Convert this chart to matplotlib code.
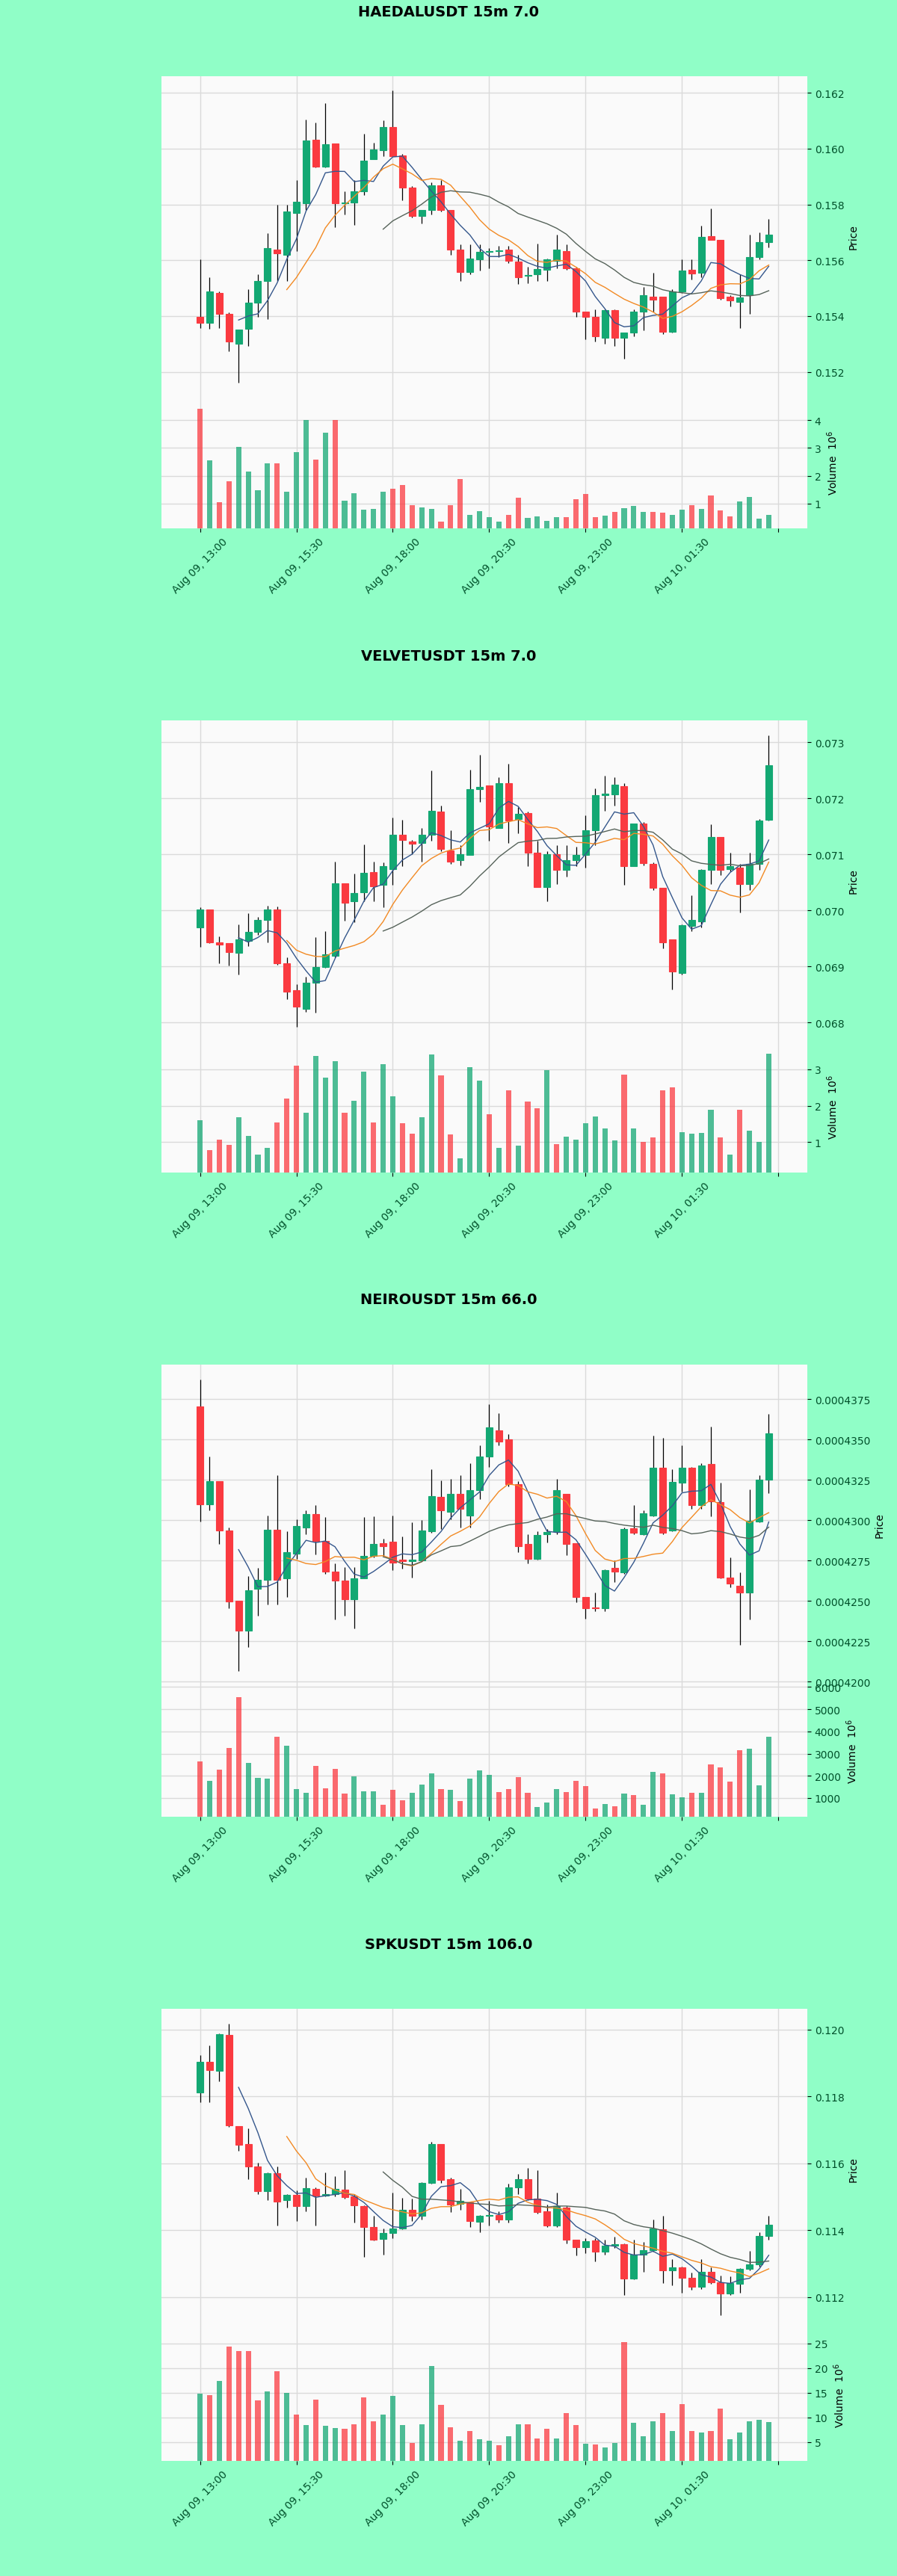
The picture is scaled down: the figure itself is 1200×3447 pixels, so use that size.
import numpy as np
import pandas as pd
import matplotlib
matplotlib.use("Agg")
import matplotlib.pyplot as plt
from matplotlib.ticker import MultipleLocator, FormatStrFormatter

# ---------------- data ----------------
times = pd.date_range("2025-08-09 13:00", periods=60, freq="15min")

titles = ["HAEDALUSDT 15m 7.0", "VELVETUSDT 15m 7.0", "NEIROUSDT 15m 66.0", "SPKUSDT 15m 106.0"]

# HAEDALUSDT
h_open = [0.15398,0.15376,0.15483,0.15407,0.15302,0.15354,0.15447,0.15527,0.15638,0.15620,
          0.15770,0.15805,0.16031,0.15936,0.16018,0.15803,0.15807,0.15847,0.15961,0.15994,
          0.16078,0.15976,0.15860,0.15758,0.15780,0.15869,0.15780,0.15638,0.15558,0.15603,
          0.15631,0.15634,0.15638,0.15596,0.15545,0.15549,0.15567,0.15598,0.15634,0.15572,
          0.15416,0.15398,0.15323,0.15420,0.15323,0.15340,0.15416,0.15469,0.15469,0.15345,
          0.15487,0.15567,0.15554,0.15687,0.15674,0.15469,0.15452,0.15474,0.15612,0.15665]
h_high = [0.15603,0.15540,0.15487,0.15412,0.15351,0.15496,0.15549,0.15696,0.15800,0.15800,
          0.15887,0.16105,0.16092,0.16163,0.16018,0.15847,0.15887,0.16052,0.16020,0.16100,
          0.16207,0.15980,0.15865,0.15780,0.15878,0.15887,0.15780,0.15656,0.15656,0.15656,
          0.15643,0.15652,0.15652,0.15620,0.15576,0.15660,0.15607,0.15692,0.15656,0.15576,
          0.15416,0.15425,0.15425,0.15425,0.15340,0.15425,0.15505,0.15554,0.15469,0.15496,
          0.15603,0.15603,0.15723,0.15785,0.15674,0.15474,0.15549,0.15692,0.15700,0.15749]
h_low = [0.15358,0.15354,0.15358,0.15274,0.15163,0.15292,0.15398,0.15389,0.15527,0.15527,
         0.15634,0.15780,0.15932,0.15932,0.15718,0.15763,0.15727,0.15834,0.15961,0.15972,
         0.15972,0.15816,0.15754,0.15732,0.15763,0.15776,0.15620,0.15527,0.15549,0.15563,
         0.15572,0.15612,0.15589,0.15514,0.15518,0.15527,0.15527,0.15572,0.15567,0.15398,
         0.15318,0.15309,0.15300,0.15292,0.15248,0.15327,0.15349,0.15416,0.15336,0.15340,
         0.15483,0.15532,0.15540,0.15674,0.15460,0.15434,0.15358,0.15407,0.15603,0.15647]
h_close = [0.15376,0.15487,0.15407,0.15309,0.15351,0.15447,0.15527,0.15643,0.15625,0.15776,
           0.15809,0.16029,0.15936,0.16016,0.15803,0.15807,0.15847,0.15958,0.15996,0.16078,
           0.15972,0.15860,0.15758,0.15780,0.15869,0.15780,0.15638,0.15558,0.15607,0.15631,
           0.15634,0.15636,0.15598,0.15540,0.15548,0.15569,0.15603,0.15638,0.15572,0.15416,
           0.15398,0.15327,0.15420,0.15323,0.15340,0.15416,0.15474,0.15460,0.15345,0.15487,
           0.15563,0.15552,0.15683,0.15674,0.15465,0.15456,0.15467,0.15612,0.15665,0.15692]
h_vol = [4.40,2.55,1.06,1.81,3.05,2.14,1.47,2.44,2.46,1.42,
         2.84,4.01,2.58,3.54,4.01,1.09,1.38,0.79,0.81,1.42,
         1.54,1.67,0.95,0.86,0.82,0.36,0.95,1.89,0.59,0.72,
         0.50,0.36,0.59,1.22,0.48,0.55,0.38,0.50,0.50,1.15,
         1.35,0.50,0.57,0.70,0.84,0.91,0.70,0.70,0.66,0.59,
         0.77,0.95,0.82,1.29,0.75,0.55,1.08,1.23,0.45,0.59]

# VELVETUSDT
v_open = [0.069699,0.070018,0.069434,0.069412,0.069248,0.069456,0.069619,0.069823,0.070018,0.069058,
          0.068571,0.068239,0.068704,0.068991,0.069190,0.070487,0.070164,0.070319,0.070681,0.070451,
          0.070739,0.071345,0.071226,0.071204,0.071345,0.071765,0.071071,0.070894,0.070991,0.072164,
          0.072230,0.071469,0.072265,0.071628,0.071735,0.071035,0.070416,0.071004,0.070717,0.070894,
          0.070982,0.071425,0.072053,0.072071,0.072221,0.070792,0.071549,0.070827,0.070407,0.069478,
          0.068881,0.069721,0.069796,0.070717,0.071314,0.070739,0.070761,0.070473,0.070827,0.071615]
v_high = [0.070053,0.070018,0.069531,0.069412,0.069743,0.069942,0.069876,0.070088,0.070062,0.069168,
          0.068681,0.068814,0.069522,0.069633,0.070872,0.070487,0.070650,0.071181,0.070872,0.070850,
          0.071655,0.071611,0.071261,0.071469,0.072496,0.071867,0.071425,0.071159,0.072509,0.072774,
          0.072230,0.072376,0.072619,0.071845,0.071757,0.071248,0.071049,0.071159,0.071159,0.071137,
          0.071690,0.072177,0.072398,0.072376,0.072274,0.071549,0.071580,0.070850,0.070407,0.069478,
          0.069743,0.070274,0.070739,0.071535,0.071314,0.071035,0.070827,0.071027,0.071624,0.073128]
v_low = [0.069345,0.069412,0.069058,0.069013,0.068858,0.069367,0.069566,0.069434,0.069035,0.068416,
         0.067929,0.068195,0.068173,0.068969,0.069168,0.069810,0.069788,0.070164,0.070164,0.070053,
         0.070451,0.070783,0.071004,0.070872,0.071248,0.071049,0.070827,0.070805,0.070982,0.071934,
         0.071248,0.071469,0.071204,0.071380,0.070783,0.070416,0.070164,0.070473,0.070606,0.070783,
         0.070761,0.071159,0.071779,0.071867,0.070451,0.070783,0.070805,0.070363,0.069323,0.068593,
         0.068858,0.069633,0.069699,0.070473,0.070628,0.070695,0.069965,0.070363,0.070717,0.071606]
v_close = [0.070009,0.069425,0.069389,0.069257,0.069478,0.069619,0.069832,0.070009,0.069058,0.068549,
           0.068283,0.068704,0.068991,0.069212,0.070487,0.070133,0.070310,0.070673,0.070429,0.070783,
           0.071345,0.071261,0.071195,0.071345,0.071779,0.071093,0.070872,0.071004,0.072155,0.072195,
           0.071491,0.072274,0.071602,0.071717,0.071027,0.070416,0.071004,0.070717,0.070894,0.070982,
           0.071425,0.072053,0.072075,0.072248,0.070783,0.071549,0.070841,0.070407,0.069434,0.068912,
           0.069735,0.069832,0.070726,0.071314,0.070726,0.070783,0.070473,0.070827,0.071602,0.072588]
v_vol = [1.61,0.79,1.08,0.92,1.68,1.17,0.66,0.84,1.54,2.20,
         3.10,1.81,3.36,2.76,3.22,1.81,2.13,2.94,1.55,3.14,
         2.26,1.52,1.24,1.68,3.41,2.83,1.21,0.57,3.06,2.68,
         1.76,0.84,2.43,0.90,2.12,1.93,2.97,0.95,1.15,1.08,
         1.52,1.70,1.38,1.06,2.86,1.37,1.00,1.14,2.43,2.50,
         1.28,1.23,1.26,1.88,1.14,0.67,1.88,1.31,1.00,3.43]

# NEIROUSDT
n_open = [4.3704e-4,4.3100e-4,4.3243e-4,4.2934e-4,4.2503e-4,4.2315e-4,4.2577e-4,4.2631e-4,4.2943e-4,4.2641e-4,
          4.2795e-4,4.2954e-4,4.3038e-4,4.2872e-4,4.2681e-4,4.2626e-4,4.2512e-4,4.2641e-4,4.2777e-4,4.2857e-4,
          4.2866e-4,4.2754e-4,4.2746e-4,4.2749e-4,4.2931e-4,4.3146e-4,4.3054e-4,4.3162e-4,4.3031e-4,4.3185e-4,
          4.3393e-4,4.3557e-4,4.3500e-4,4.3223e-4,4.2854e-4,4.2761e-4,4.2915e-4,4.2931e-4,4.3162e-4,4.2857e-4,
          4.2523e-4,4.2461e-4,4.2454e-4,4.2703e-4,4.2677e-4,4.2949e-4,4.2915e-4,4.3031e-4,4.3323e-4,4.2938e-4,
          4.3231e-4,4.3323e-4,4.3092e-4,4.3349e-4,4.3112e-4,4.2646e-4,4.2595e-4,4.2554e-4,4.2992e-4,4.3251e-4]
n_high = [4.3873e-4,4.3393e-4,4.3243e-4,4.2954e-4,4.2503e-4,4.2654e-4,4.2703e-4,4.3031e-4,4.3280e-4,4.2931e-4,
          4.3008e-4,4.3062e-4,4.3092e-4,4.3020e-4,4.2731e-4,4.2708e-4,4.2708e-4,4.3020e-4,4.3026e-4,4.2885e-4,
          4.3031e-4,4.2897e-4,4.2985e-4,4.3000e-4,4.3316e-4,4.3246e-4,4.3257e-4,4.3277e-4,4.3354e-4,4.3462e-4,
          4.3719e-4,4.3662e-4,4.3531e-4,4.3242e-4,4.2915e-4,4.2931e-4,4.2946e-4,4.3254e-4,4.3162e-4,4.2857e-4,
          4.2523e-4,4.2554e-4,4.2695e-4,4.2749e-4,4.2954e-4,4.3092e-4,4.3062e-4,4.3523e-4,4.3508e-4,4.3316e-4,
          4.3462e-4,4.3331e-4,4.3354e-4,4.3577e-4,4.3231e-4,4.2769e-4,4.2677e-4,4.3192e-4,4.3277e-4,4.3657e-4]
n_low = [4.2992e-4,4.3062e-4,4.2854e-4,4.2454e-4,4.2069e-4,4.2215e-4,4.2407e-4,4.2477e-4,4.2477e-4,4.2523e-4,
         4.2761e-4,4.2915e-4,4.2789e-4,4.2669e-4,4.2384e-4,4.2407e-4,4.2330e-4,4.2638e-4,4.2769e-4,4.2777e-4,
         4.2692e-4,4.2700e-4,4.2646e-4,4.2746e-4,4.2923e-4,4.2946e-4,4.3008e-4,4.2954e-4,4.2954e-4,4.3131e-4,
         4.3331e-4,4.3462e-4,4.3208e-4,4.2800e-4,4.2731e-4,4.2754e-4,4.2861e-4,4.2915e-4,4.2784e-4,4.2492e-4,
         4.2392e-4,4.2438e-4,4.2438e-4,4.2615e-4,4.2669e-4,4.2915e-4,4.2908e-4,4.3023e-4,4.2915e-4,4.2931e-4,
         4.3177e-4,4.3069e-4,4.3069e-4,4.3023e-4,4.2638e-4,4.2584e-4,4.2230e-4,4.2384e-4,4.2985e-4,4.3169e-4]
n_close = [4.3100e-4,4.3243e-4,4.2934e-4,4.2497e-4,4.2315e-4,4.2564e-4,4.2631e-4,4.2943e-4,4.2631e-4,4.2804e-4,
           4.2962e-4,4.3038e-4,4.2872e-4,4.2681e-4,4.2626e-4,4.2512e-4,4.2641e-4,4.2780e-4,4.2854e-4,4.2841e-4,
           4.2738e-4,4.2746e-4,4.2754e-4,4.2938e-4,4.3149e-4,4.3062e-4,4.3162e-4,4.3072e-4,4.3185e-4,4.3393e-4,
           4.3574e-4,4.3488e-4,4.3223e-4,4.2841e-4,4.2761e-4,4.2908e-4,4.2926e-4,4.3185e-4,4.2854e-4,4.2523e-4,
           4.2454e-4,4.2454e-4,4.2692e-4,4.2684e-4,4.2946e-4,4.2923e-4,4.3042e-4,4.3323e-4,4.2923e-4,4.3236e-4,
           4.3323e-4,4.3092e-4,4.3339e-4,4.3119e-4,4.2646e-4,4.2607e-4,4.2554e-4,4.2995e-4,4.3251e-4,4.3539e-4]
n_vol = [2640,1756,2266,3263,5529,2583,1903,1869,3773,3342,
         1394,1246,2436,1450,2323,1190,1960,1303,1303,680,
         1360,906,1246,1620,2107,1394,1360,850,1869,2243,
         2039,1280,1394,1926,1246,600,793,1394,1280,1767,
         1530,521,714,634,1190,1133,680,2187,2107,1167,
         1020,1246,1246,2527,2379,1733,3150,3206,1564,3773]

# SPKUSDT
s_open = [0.118115,0.119038,0.118757,0.119836,0.117103,0.116563,0.115898,0.115160,0.115699,0.114886,
          0.115049,0.114717,0.115234,0.115034,0.115086,0.115211,0.115012,0.114717,0.114089,0.113734,
          0.113904,0.114052,0.114606,0.114421,0.115418,0.116563,0.115529,0.114790,0.114827,0.114251,
          0.114421,0.114458,0.114325,0.115271,0.115529,0.114938,0.114569,0.114126,0.114680,0.113705,
          0.113483,0.113682,0.113350,0.113535,0.113572,0.112552,0.113276,0.113409,0.114030,0.112796,
          0.112892,0.112574,0.112301,0.112759,0.112449,0.112094,0.112390,0.112833,0.112981,0.113830]
s_high = [0.119223,0.119518,0.119880,0.120183,0.117103,0.117043,0.116009,0.115714,0.115898,0.115086,
          0.115197,0.115566,0.115270,0.115714,0.115603,0.115788,0.115086,0.114740,0.114421,0.114052,
          0.115123,0.114975,0.114938,0.115430,0.116637,0.116580,0.115566,0.115234,0.114840,0.114458,
          0.114864,0.114569,0.115381,0.115677,0.115862,0.115802,0.114753,0.115123,0.114717,0.113719,
          0.113756,0.113756,0.113719,0.113793,0.113608,0.113719,0.113645,0.114310,0.114421,0.113128,
          0.112907,0.112722,0.113128,0.112892,0.112648,0.112611,0.112870,0.113387,0.113941,0.114421]
s_low = [0.117819,0.117819,0.118447,0.117080,0.116379,0.115529,0.115086,0.114901,0.114126,0.114680,
         0.114273,0.114569,0.114126,0.115012,0.115012,0.114938,0.114236,0.113202,0.113682,0.113276,
         0.113756,0.114015,0.114273,0.114310,0.115381,0.115418,0.114532,0.114606,0.114089,0.113941,
         0.114126,0.114236,0.114236,0.115086,0.114901,0.114495,0.114089,0.114089,0.113608,0.113239,
         0.113313,0.113054,0.113276,0.113461,0.112057,0.112537,0.112759,0.113350,0.112427,0.112353,
         0.112131,0.112205,0.112242,0.112390,0.111466,0.112057,0.112131,0.112796,0.112907,0.113719]
s_close = [0.119038,0.118779,0.119851,0.117132,0.116541,0.115898,0.115160,0.115699,0.114842,0.115049,
           0.114717,0.115256,0.115034,0.115086,0.115234,0.114990,0.114739,0.114089,0.113719,0.113904,
           0.114052,0.114606,0.114421,0.115418,0.116563,0.115492,0.114753,0.114864,0.114273,0.114421,
           0.114443,0.114325,0.115285,0.115529,0.114938,0.114532,0.114126,0.114717,0.113719,0.113483,
           0.113660,0.113350,0.113535,0.113572,0.112552,0.113261,0.113409,0.114052,0.112796,0.112892,
           0.112574,0.112301,0.112759,0.112449,0.112094,0.112427,0.112833,0.112981,0.113830,0.114163]
s_vol = [14.8,14.5,17.3,24.4,23.5,23.5,13.4,15.3,19.4,14.9,
         10.6,8.4,13.6,8.2,7.8,7.7,8.6,14.1,9.2,10.6,
         14.3,8.4,4.8,8.6,20.4,12.5,7.9,5.3,7.2,5.5,
         5.3,4.4,6.2,8.5,8.6,5.7,7.6,5.7,10.9,8.4,
         4.7,4.5,3.8,4.8,25.3,8.8,6.2,9.2,10.8,7.2,
         12.7,7.2,6.9,7.2,11.8,5.5,6.9,9.2,9.5,9.1]

mav_periods = [5, 10, 20]
price_steps = [0.002, 0.001, 0.0000025, 0.002]
price_fmts = ["%.3f", "%.3f", "%.7f", "%.3f"]
vol_steps = [1, 1, 1000, 5]

panels = [
    (h_open, h_high, h_low, h_close, h_vol),
    (v_open, v_high, v_low, v_close, v_vol),
    (n_open, n_high, n_low, n_close, n_vol),
    (s_open, s_high, s_low, s_close, s_vol),
]

# ---------------- style ----------------
BG = "#90fec7"
AX_BG = "#fafafa"
UP = "#13a873"
DOWN = "#fa3a40"
MA_COLORS = ["#35578c", "#f28a24", "#56635a"]
TICK_COLOR = "#00502a"
GRID = "#dadada"

W, H = 1200, 3448
PANEL_H = 862

fig = plt.figure(figsize=(W / 100, H / 100), dpi=100, facecolor=BG)

for k, (o, hi, lo, c, vol) in enumerate(panels):
    o = np.array(o); hi = np.array(hi); lo = np.array(lo); c = np.array(c); vol = np.array(vol)
    n = len(c)
    x = np.arange(n)
    off = PANEL_H * k
    axp = fig.add_axes([0.18, 1 - (532 + off) / H, 0.72, 429 / H], facecolor=AX_BG)
    axv = fig.add_axes([0.18, 1 - (708 + off) / H, 0.72, 176 / H], facecolor=AX_BG, sharex=axp)

    up = c >= o
    cols = np.where(up, UP, DOWN)

    # candles
    axp.vlines(x, lo, hi, color="black", linewidth=0.9, zorder=2)
    body = np.abs(c - o)
    axp.bar(x, body, bottom=np.minimum(o, c), width=0.7, color=cols,
            edgecolor=cols, linewidth=0.8, zorder=3)

    # moving averages
    cs = pd.Series(c)
    for p, mc in zip(mav_periods, MA_COLORS):
        axp.plot(x, cs.rolling(p).mean(), color=mc, linewidth=1.0, zorder=4)

    rng = hi.max() - lo.min()
    axp.set_ylim(lo.min() - 0.05 * rng, hi.max() + 0.05 * rng)
    axp.yaxis.set_major_locator(MultipleLocator(price_steps[k]))
    axp.yaxis.set_major_formatter(FormatStrFormatter(price_fmts[k]))

    # volume
    axv.bar(x, vol, width=0.55, color=cols, alpha=0.75, zorder=3)
    axv.set_ylim(0.3 * vol.min(), 1.1 * vol.max())
    axv.yaxis.set_major_locator(MultipleLocator(vol_steps[k]))

    axp.set_xlim(-4, 63)
    ticks = list(range(0, n + 1, 10))
    labels = [times[i].strftime("%b %d, %H:%M") if i < n else "" for i in ticks]
    axv.set_xticks(ticks)
    axv.set_xticklabels(labels, rotation=45, ha="center")

    for ax in (axp, axv):
        ax.yaxis.tick_right()
        ax.yaxis.set_label_position("right")
        ax.grid(True, color=GRID, linewidth=1.0)
        ax.set_axisbelow(True)
        for s in ax.spines.values():
            s.set_visible(False)
        ax.tick_params(axis="both", labelcolor=TICK_COLOR, labelsize=10)
    axp.tick_params(axis="x", length=0, labelbottom=False)

    axp.set_ylabel("Price", fontsize=10)
    axv.set_ylabel("Volume  $10^{6}$", fontsize=10)

    fig.text(0.5, 1 - (16 + off) / H, titles[k], ha="center", va="center",
             fontsize=14, fontweight="bold", color="black")

fig.savefig("out.png", dpi=100, facecolor=BG)
